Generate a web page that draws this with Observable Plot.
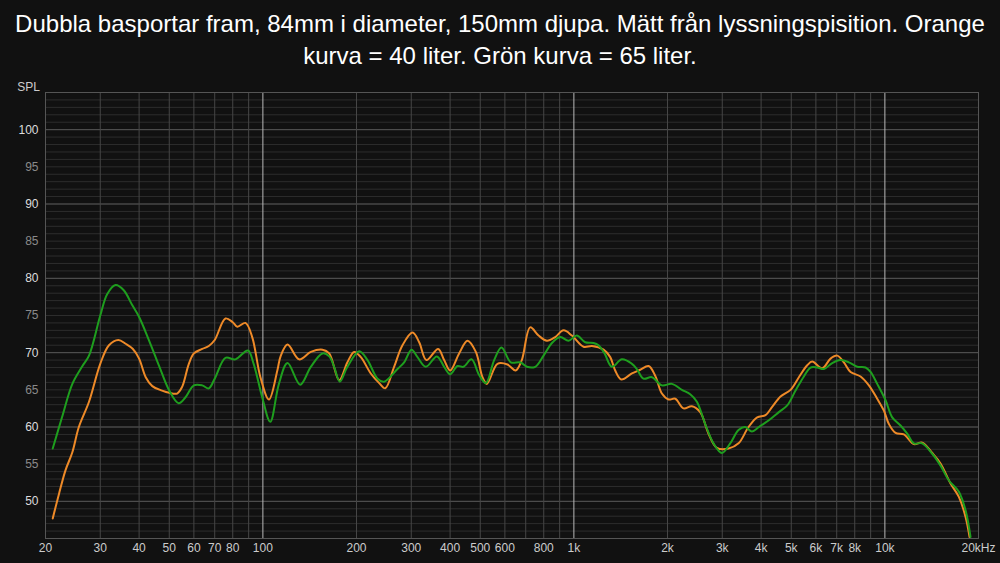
<!DOCTYPE html>
<html>
<head>
<meta charset="utf-8">
<script src="https://cdn.jsdelivr.net/npm/d3@7"></script>
<script src="https://cdn.jsdelivr.net/npm/@observablehq/plot@0.6"></script>
<style>
  html, body { margin: 0; padding: 0; background: #111111; }
  #title { width: 1000px; height: 64px; padding-top: 8px; color: #ffffff; text-align: center;
    font-family: "Liberation Sans", Arial, sans-serif; font-size: 24px; line-height: 32px; white-space: nowrap; }
  #chart { width: 1000px; }
</style>
</head>
<body>
<div id="title">Dubbla basportar fram, 84mm i diameter, 150mm djupa. Mätt från lyssningspisition. Orange<br>kurva = 40 liter. Grön kurva = 65 liter.</div>
<div id="chart"></div>
<script>
const orangeFreq = [21.1,22.1,23.2,24.4,25.6,27.6,30,32,34.3,36.2,38.2,40,42,44.1,47.4,50,53,55,57.8,60,63.8,67,70,75.8,80,82.8,87.9,92.4,98.2,104.6,111.3,114,120,130.8,142.6,155.5,163.4,176,187,196.6,206.5,222.3,236.6,247.4,264.2,281.1,302.9,318.1,335.7,366.1,382.7,400,427.6,454.9,483.9,508.3,525,568,611.8,650,680,723.7,769.9,818.9,871,926.4,985.4,1074,1143,1246,1309,1358,1420,1537,1634,1739,1826,1919,2016,2118,2252,2395,2548,2710,2882,3143,3384,3644,3886,4133,4341,4618,4974,5290,5627,5839,6287,6688,7026,7382,7757,8353,8883,9448,9927,10301,10822,11510,12395,13183,14199,15100,16259,17292,18173,18719];
const orangeSpl = [47.7,51.0,54.2,56.6,60.0,63.4,68.5,71.0,71.7,71.2,70.5,69.2,66.7,65.5,64.9,64.6,64.5,65.4,68.5,69.9,70.5,70.9,71.7,74.6,74.1,73.5,74.0,72.1,66.7,63.7,67.6,69.5,71.1,69.1,70.1,70.4,69.9,66.3,68.7,70.1,69.4,67.2,65.9,65.2,68.1,71.0,72.7,71.4,69.0,70.5,69.0,67.6,69.9,71.6,70.1,66.7,65.8,68.5,68.4,67.6,69.0,73.4,72.3,71.6,72.1,73.0,72.3,70.8,70.9,70.4,69.4,67.6,66.4,67.2,67.7,68.2,66.9,64.5,63.7,63.8,62.5,62.8,62.0,59.1,57.2,57.1,57.8,60.0,61.3,61.6,62.7,64.1,65.0,66.7,68.3,68.8,67.9,69.2,69.6,68.7,67.4,66.8,65.6,63.8,62.2,60.4,59.2,59.0,57.7,57.9,56.5,55.1,52.4,50.6,47.9,45.2];

const greenFreq = [21.1,22.6,24.4,26.2,27.6,30,31.6,33.6,35.7,38,40,43,46.3,50,53.6,56.4,60,63.8,67,70,75.8,81.6,89.5,93.4,99.5,105.6,112.6,120,131.8,142.6,155.5,163.4,169.5,176.8,187,204,217,233.7,245.5,270.9,284.6,300.6,314.2,334.2,362.5,382.7,400,422.5,441.6,468.6,495.9,521.2,554.2,585.1,627,672,706,751,799,850,904,961,1022,1087,1157,1200,1255,1325,1427,1537,1594,1675,1781,1919,2066,2225,2366,2486,2644,2812,2991,3182,3384,3555,3735,3934,4236,4562,4853,5161,5490,5768,6059,6367,6772,7202,7662,8147,8666,8993,9448,10049,10557,11230,11797,12395,13183,14199,15100,16064,17292,18173,18857];
const greenSpl = [57.1,61.3,65.8,68.1,69.6,75.0,77.9,79.1,78.4,76.4,74.8,71.7,68.3,64.9,63.2,64.0,65.6,65.6,65.2,66.5,69.3,69.1,70.3,68.5,64.0,60.7,65.8,68.6,65.7,68.1,69.9,69.5,68.1,66.1,68.1,70.2,69.0,66.5,66.1,67.8,68.7,70.4,69.4,68.1,69.5,68.1,67.1,68.2,68.1,69.1,67.0,65.9,69.0,70.7,68.7,68.7,68.1,68.1,69.6,71.3,72.1,71.6,72.3,71.4,71.3,71.0,69.9,68.1,69.1,68.5,67.8,66.5,66.7,65.6,65.8,65.0,64.4,63.4,60.4,57.8,56.5,57.8,59.6,60.0,59.4,60.0,60.9,62.0,62.9,64.9,66.8,68.0,68.0,67.8,68.6,69.0,68.7,68.1,68.0,67.4,65.8,63.6,61.3,60.2,59.1,57.8,57.8,56.4,54.8,52.8,51.3,48.8,45.2];

const xTickValues = [20,30,40,50,60,70,80,100,200,300,400,500,600,800,1000,2000,3000,4000,5000,6000,7000,8000,10000,20000];
const xTickLabels = ["20","30","40","50","60","70","80","100","200","300","400","500","600","800","1k","2k","3k","4k","5k","6k","7k","8k","10k","20kHz"];
const yMajorTicks = [50,60,70,80,90,100];
const yMinorTicks = [55,65,75,85,95];

const gridFreqMinor = [];
for (const dec of [10,100,1000]) for (let m = 2; m <= 9; m++) { const f = m*dec; if (f > 20 && f < 20000) gridFreqMinor.push(f); }
const gridFreqDecade = [100,1000,10000];
const gridDbMinor = d3.range(46,105);
const gridDbMajor = [50,60,70,80,90,100];

const orange = orangeFreq.map((f,i) => ({f, v: orangeSpl[i]}));
const green = greenFreq.map((f,i) => ({f, v: greenSpl[i]}));
const xTicks = xTickValues.map((f,i) => ({f, label: xTickLabels[i]}));

const chart = Plot.plot({
  width: 1000,
  height: 491,
  marginTop: 20,
  marginBottom: 25,
  marginLeft: 45,
  marginRight: 22,
  style: {background: "#111111", color: "#cccccc", fontFamily: "'Liberation Sans', Arial, sans-serif", fontSize: "12px"},
  x: {type: "log", domain: [20, 20000], axis: null},
  y: {domain: [45, 105], axis: null},
  marks: [
    Plot.ruleY(gridDbMinor, {stroke: "#2d2d2d", strokeWidth: 1}),
    Plot.ruleY(gridDbMajor, {stroke: "#555555", strokeWidth: 1}),
    Plot.ruleX(gridFreqMinor, {stroke: "#464646", strokeWidth: 1}),
    Plot.ruleX(gridFreqDecade, {stroke: "#b8b8b8", strokeWidth: 1}),
    Plot.frame({stroke: "#555555"}),
    Plot.axisY(yMajorTicks, {tickSize: 0, tickPadding: 7, color: "#dddddd", label: null}),
    Plot.axisY(yMinorTicks, {tickSize: 0, tickPadding: 7, color: "#8a8a8a", label: null}),
    Plot.text(xTicks, {x: "f", text: "label", frameAnchor: "bottom", dy: 13, fill: "#cccccc", fontSize: 12, textAnchor: "middle"}),
    Plot.text(["SPL"], {frameAnchor: "top-left", dx: -17, dy: -10, fill: "#cccccc", fontSize: 12, textAnchor: "middle"}),
    Plot.line(orange, {x: "f", y: "v", stroke: "#ee8a28", strokeWidth: 2, curve: "catmull-rom", clip: true}),
    Plot.line(green, {x: "f", y: "v", stroke: "#1e9e1e", strokeWidth: 2, curve: "catmull-rom", clip: true})
  ]
});
document.getElementById("chart").appendChild(chart);
</script>
</body>
</html>
